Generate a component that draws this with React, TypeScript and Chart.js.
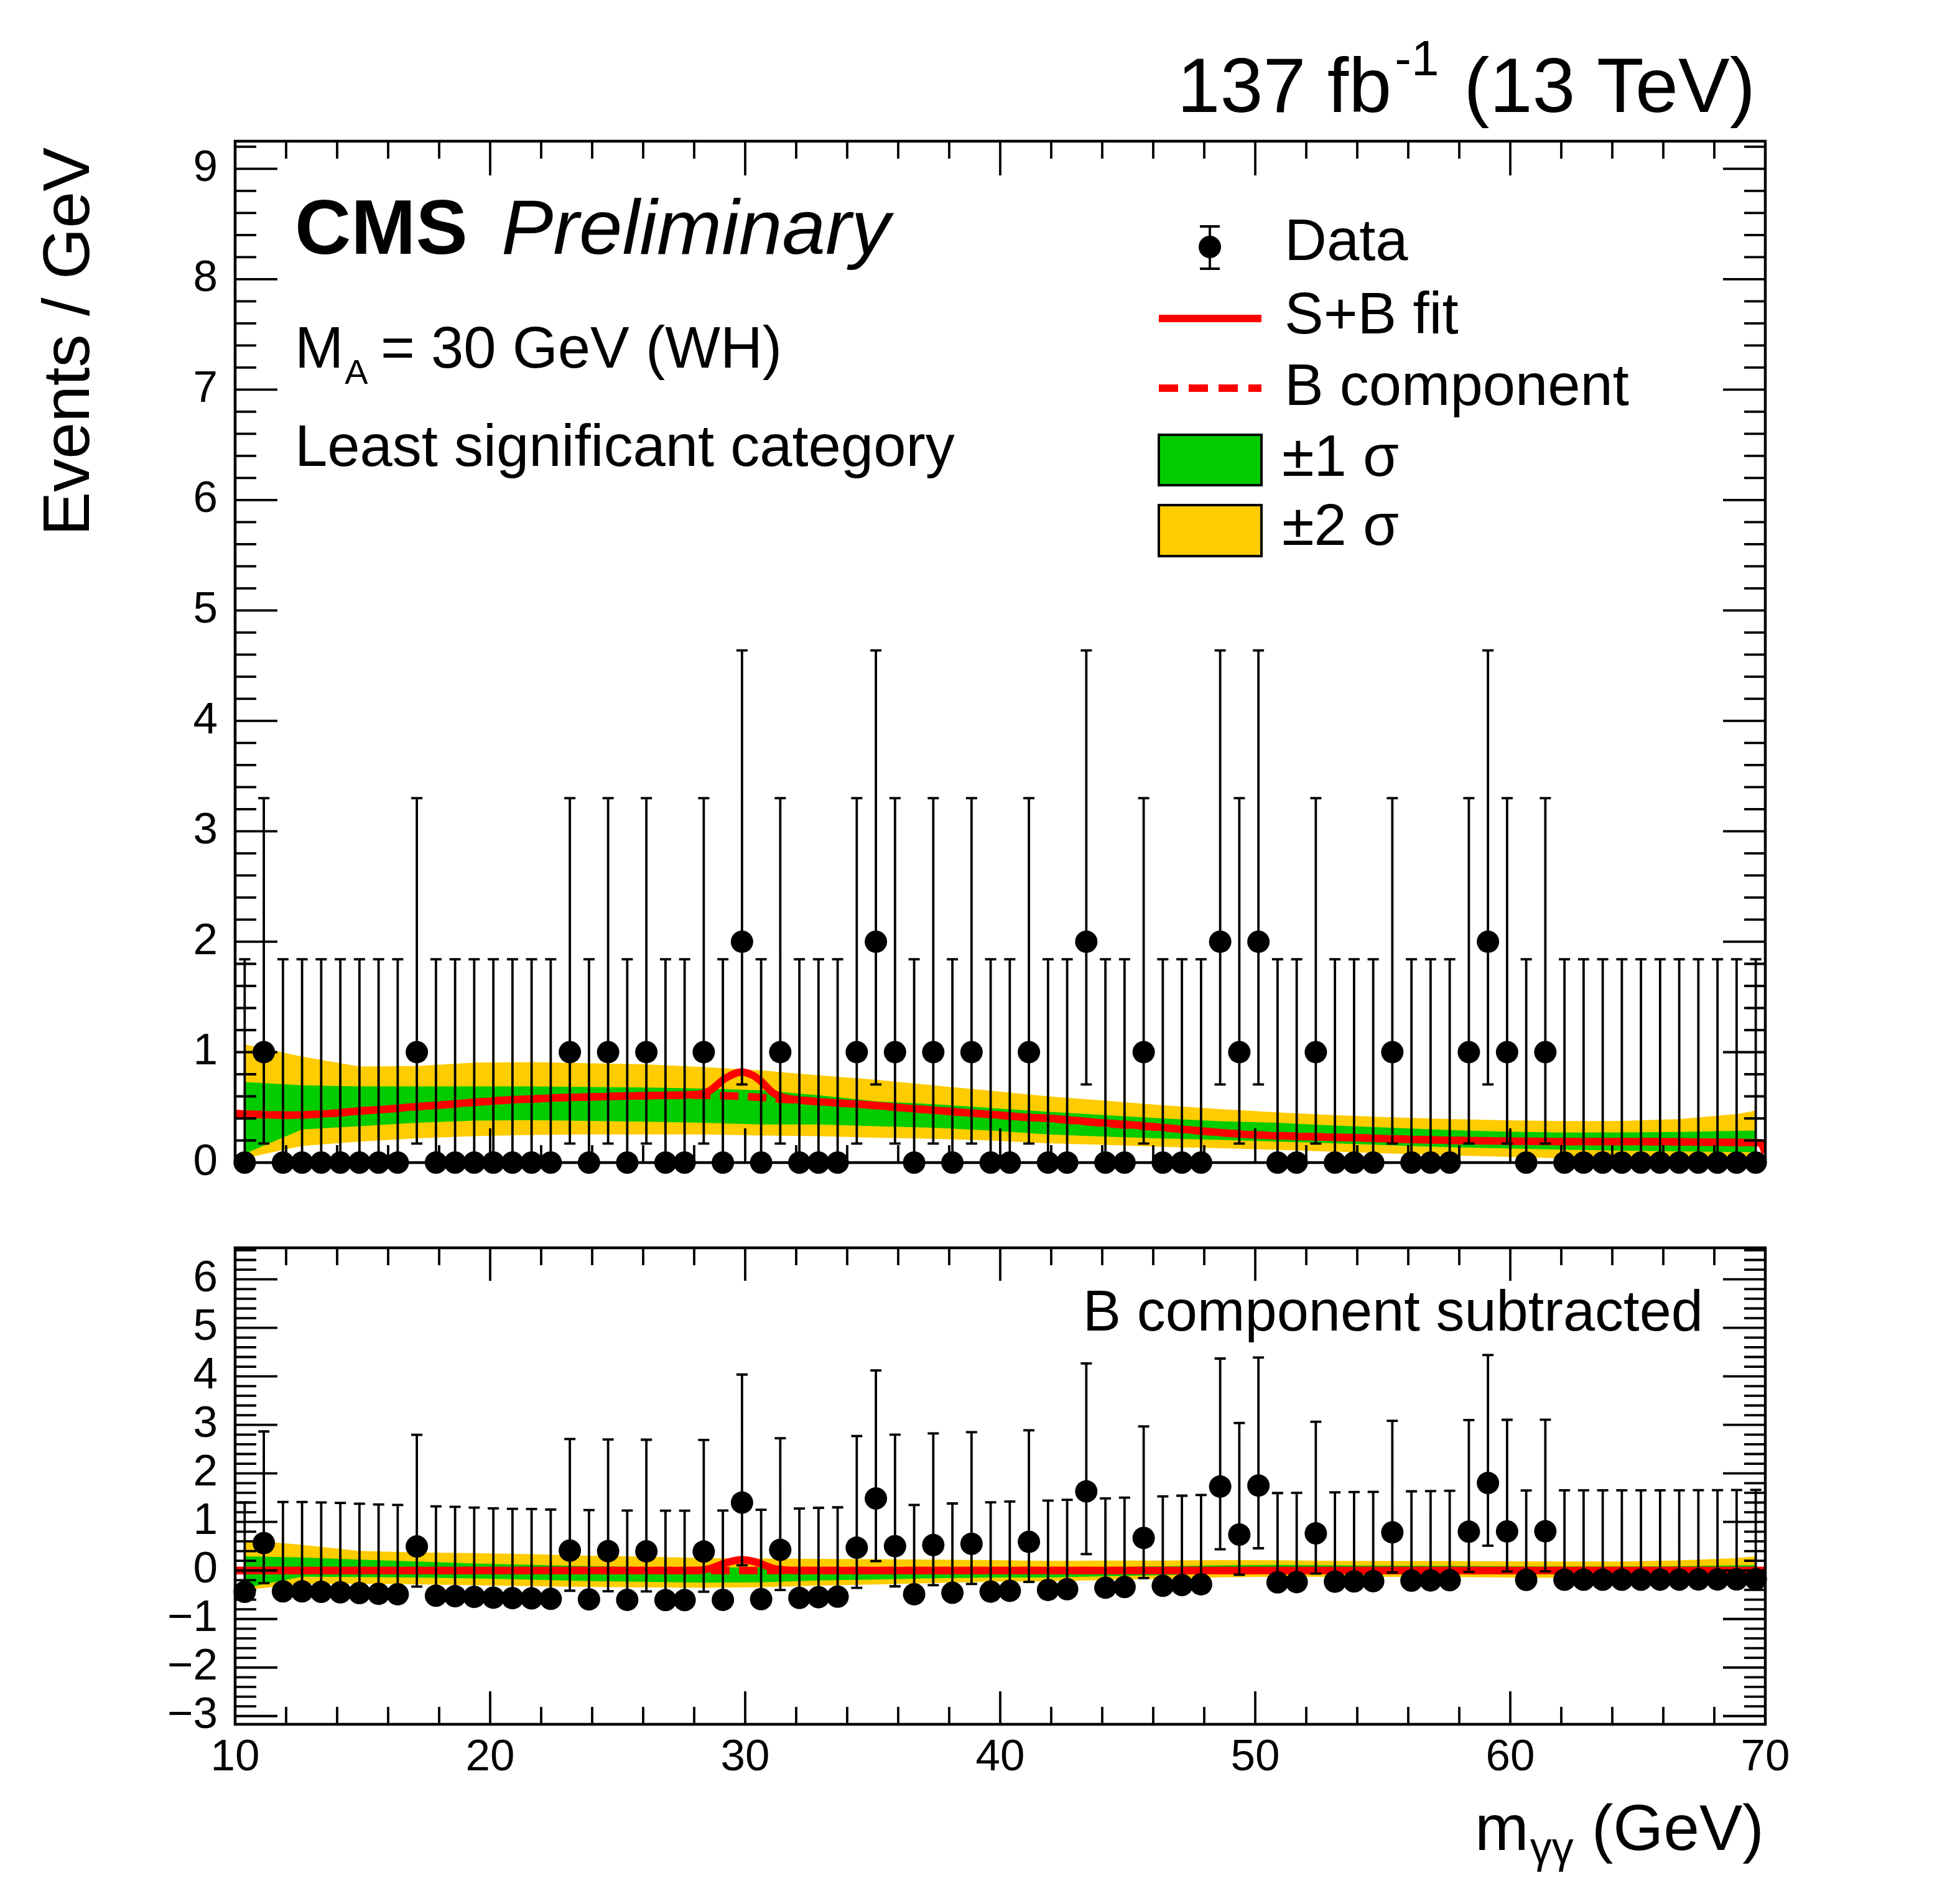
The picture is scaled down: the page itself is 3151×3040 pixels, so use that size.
import { useEffect, useRef } from "react"
import { Chart, registerables } from "chart.js"

Chart.register(...registerables)

// ---- values ----
// 80 bins of 0.75 GeV between 10 and 70 GeV
const binLow = 10
const binWidth = 0.75

// observed events per bin
const counts = [
  0, 1, 0, 0, 0, 0, 0, 0, 0, 1,
  0, 0, 0, 0, 0, 0, 0, 1, 0, 1,
  0, 1, 0, 0, 1, 0, 2, 0, 1, 0,
  0, 0, 1, 2, 1, 0, 1, 0, 1, 0,
  0, 1, 0, 0, 2, 0, 0, 1, 0, 0,
  0, 2, 1, 2, 0, 0, 1, 0, 0, 0,
  1, 0, 0, 0, 1, 2, 1, 0, 1, 0,
  0, 0, 0, 0, 0, 0, 0, 0, 0, 0,
]

// B component of the S+B fit at each bin centre
const bkgAtBins = [
  0.44, 0.435, 0.43, 0.43, 0.44, 0.45, 0.465, 0.48, 0.49, 0.505,
  0.52, 0.53, 0.545, 0.56, 0.57, 0.575, 0.585, 0.59, 0.595, 0.6,
  0.605, 0.605, 0.61, 0.61, 0.61, 0.605, 0.6, 0.59, 0.575, 0.565,
  0.55, 0.54, 0.53, 0.515, 0.5, 0.49, 0.475, 0.46, 0.45, 0.435,
  0.42, 0.41, 0.4, 0.385, 0.37, 0.355, 0.34, 0.33, 0.315, 0.3,
  0.285, 0.27, 0.26, 0.25, 0.245, 0.24, 0.235, 0.23, 0.225, 0.22,
  0.215, 0.21, 0.205, 0.2, 0.2, 0.197, 0.195, 0.193, 0.192, 0.19,
  0.19, 0.19, 0.19, 0.19, 0.188, 0.188, 0.186, 0.185, 0.183, 0.18,
]

// Garwood intervals for n = 0, 1, 2
const poissonLow = [0, 0.173, 0.708]
const poissonHigh = [1.841, 3.3, 4.638]

// S+B fit curve
const sbFitX = [
  10, 11, 12, 13, 14, 15, 16, 17, 18, 19, 20, 21, 22, 23, 24, 25, 26, 27, 28,
  28.6, 29.2, 29.85, 30.3, 30.6, 31.1, 31.5, 32,
  33, 34, 35, 36, 37, 38, 39, 40, 41, 42, 43, 44, 45, 46, 47, 48, 49, 50,
  52, 54, 56, 58, 60, 62, 64, 66, 68, 69.8, 70,
]
const sbFitY = [
  0.445, 0.435, 0.43, 0.435, 0.45, 0.47, 0.485, 0.505, 0.52, 0.54, 0.555, 0.57, 0.58, 0.59, 0.595, 0.6, 0.605, 0.61, 0.615,
  0.65, 0.76, 0.82, 0.79, 0.74, 0.63, 0.59, 0.57,
  0.55, 0.535, 0.52, 0.5, 0.48, 0.465, 0.445, 0.43, 0.41, 0.4, 0.38, 0.36, 0.345, 0.325, 0.305, 0.285, 0.265, 0.25,
  0.235, 0.225, 0.21, 0.2, 0.195, 0.19, 0.19, 0.19, 0.185, 0.18, 0.09,
]

// S+B minus B in the lower panel
const subSbX = [10, 28, 28.6, 29.2, 29.85, 30.3, 30.6, 31.1, 31.5, 32, 70]
const subSbY = [0, 0, 0.035, 0.15, 0.22, 0.19, 0.14, 0.04, 0.01, 0, 0]
const subBkgX = [10, 70]
const subBkgY = [0, 0]

// uncertainty bands, sampled at these bin centres
const bandBins = [0, 3, 6, 9, 12, 15, 18, 21, 24, 27, 30, 33, 36, 39, 42, 45, 48, 51, 54, 57, 60, 63, 66, 69, 72, 75, 78, 79]
const band2High = [1.07, 0.96, 0.87, 0.875, 0.905, 0.91, 0.9, 0.89, 0.865, 0.835, 0.79, 0.75, 0.7, 0.65, 0.6, 0.56, 0.52, 0.485, 0.455, 0.43, 0.41, 0.395, 0.383, 0.376, 0.377, 0.395, 0.44, 0.47]
const band1High = [0.73, 0.7, 0.69, 0.69, 0.69, 0.69, 0.685, 0.68, 0.67, 0.655, 0.61, 0.555, 0.53, 0.495, 0.46, 0.43, 0.4, 0.375, 0.36, 0.335, 0.315, 0.295, 0.28, 0.272, 0.273, 0.278, 0.287, 0.29]
const band1Low = [0.08, 0.3, 0.33, 0.36, 0.38, 0.385, 0.378, 0.37, 0.36, 0.345, 0.345, 0.33, 0.315, 0.29, 0.255, 0.235, 0.218, 0.205, 0.19, 0.175, 0.157, 0.14, 0.128, 0.117, 0.108, 0.102, 0.096, 0.094]
const band2Low = [0.04, 0.15, 0.19, 0.22, 0.24, 0.25, 0.255, 0.255, 0.255, 0.245, 0.24, 0.225, 0.215, 0.2, 0.175, 0.16, 0.142, 0.13, 0.115, 0.098, 0.082, 0.065, 0.052, 0.038, 0.028, 0.018, 0.012, 0.01]

const xTicks = [10, 20, 30, 40, 50, 60, 70]
const topYTicks = [0, 1, 2, 3, 4, 5, 6, 7, 8, 9]
const bottomYTicks = [-3, -2, -1, 0, 1, 2, 3, 4, 5, 6]

// ---- styling ----
const FONT = "'Liberation Sans', Arial, Helvetica, sans-serif"
const RED = "#ff0000"
const GREEN = "#00cc00"
const YELLOW = "#ffcc00"

const WIDTH = 3151
const FRAME_RIGHT = 2838
const TOP_HEIGHT = 1960
const BOTTOM_TOP = 1960
const BOTTOM_HEIGHT = 1080

const binCenter = (i: number) => binLow + binWidth * (i + 0.5)
const points = (xs: number[], ys: number[]) => xs.map((x, i) => ({ x, y: ys[i] }))
const fmt = (v: number) => (v < 0 ? "\u2212" + Math.abs(v) : String(v))

interface PanelSpec {
  height: number
  frameTop: number
  frameBottom: number
  yMin: number
  yMax: number
  yTicks: number[]
  labelSize: number
  labelPad: number
  showX: boolean
  xTickLen: [number, number]
  yTickLen: [number, number]
  decorate: (ctx: CanvasRenderingContext2D) => void
}

// ROOT style frame: ticks inside on all four sides
const framePlugin = (spec: PanelSpec) => ({
  id: "rootFrame",
  afterDatasetsDraw(chart: any) {
    const { ctx, chartArea: a } = chart
    const xs = chart.scales.x
    const ys = chart.scales.y
    ctx.save()
    ctx.strokeStyle = "#000"
    ctx.lineWidth = 3.8
    ctx.beginPath()
    for (let k = 0; k <= 30; k++) {
      const v = 10 + 2 * k
      const px = xs.getPixelForValue(v)
      const len = v % 10 === 0 ? spec.xTickLen[0] : spec.xTickLen[1]
      ctx.moveTo(px, a.bottom)
      ctx.lineTo(px, a.bottom - len)
      ctx.moveTo(px, a.top)
      ctx.lineTo(px, a.top + len)
    }
    const first = Math.ceil(spec.yMin * 5 - 1e-6)
    const last = Math.floor(spec.yMax * 5 + 1e-6)
    for (let k = first; k <= last; k++) {
      const py = ys.getPixelForValue(k / 5)
      const len = k % 5 === 0 ? spec.yTickLen[0] : spec.yTickLen[1]
      ctx.moveTo(a.left, py)
      ctx.lineTo(a.left + len, py)
      ctx.moveTo(a.right, py)
      ctx.lineTo(a.right - len, py)
    }
    ctx.stroke()
    ctx.lineWidth = 4.5
    ctx.strokeRect(a.left, a.top, a.right - a.left, a.bottom - a.top)
    ctx.restore()
  },
  afterDraw(chart: any) {
    const ctx = chart.ctx
    ctx.save()
    ctx.fillStyle = "#000"
    ctx.textBaseline = "alphabetic"
    ctx.textAlign = "left"
    spec.decorate(ctx)
    ctx.restore()
  },
})

// vertical error bars with end caps, drawn under the markers
const errorBarPlugin = {
  id: "errorBars",
  beforeDatasetDraw(chart: any, args: any) {
    const ds = chart.data.datasets[args.index]
    if (!ds.errorBars) return
    const { ctx } = chart
    const xs = chart.scales.x
    const ys = chart.scales.y
    ctx.save()
    ctx.strokeStyle = "#000"
    ctx.lineWidth = 3.8
    ctx.beginPath()
    ds.data.forEach((p: any) => {
      const px = xs.getPixelForValue(p.x)
      const lo = ys.getPixelForValue(p.yMin)
      const hi = ys.getPixelForValue(p.yMax)
      ctx.moveTo(px, lo)
      ctx.lineTo(px, hi)
      ctx.moveTo(px - 9, lo)
      ctx.lineTo(px + 9, lo)
      ctx.moveTo(px - 9, hi)
      ctx.lineTo(px + 9, hi)
    })
    ctx.stroke()
    ctx.restore()
  },
}

function buildDatasets(subtract: boolean) {
  const bandX = bandBins.map(binCenter)
  const shift = (ys: number[]) => ys.map((v, k) => v - (subtract ? bkgAtBins[bandBins[k]] : 0))
  const data = counts.map((n, i) => {
    const b = subtract ? bkgAtBins[i] : 0
    return { x: binCenter(i), y: n - b, yMin: poissonLow[n] - b, yMax: poissonHigh[n] - b }
  })
  const bkgLine = subtract ? points(subBkgX, subBkgY) : points(counts.map((_, i) => binCenter(i)), bkgAtBins)
  const sbLine = subtract ? points(subSbX, subSbY) : points(sbFitX, sbFitY)
  const band = { borderWidth: 0, borderColor: "transparent", pointRadius: 0 }
  return [
    { label: "+2 sigma", data: points(bandX, shift(band2High)), fill: "+1", backgroundColor: YELLOW, order: 6, ...band },
    { label: "-2 sigma", data: points(bandX, shift(band2Low)), fill: false, order: 6, ...band },
    { label: "+1 sigma", data: points(bandX, shift(band1High)), fill: "+1", backgroundColor: GREEN, order: 5, ...band },
    { label: "-1 sigma", data: points(bandX, shift(band1Low)), fill: false, order: 5, ...band },
    {
      label: "B component",
      data: bkgLine,
      borderColor: RED,
      borderWidth: 12,
      borderDash: [30, 15],
      pointRadius: 0,
      fill: false,
      order: 3,
    },
    {
      label: "S+B fit",
      data: sbLine,
      borderColor: RED,
      borderWidth: 12,
      pointRadius: 0,
      fill: false,
      cubicInterpolationMode: "monotone",
      order: 2,
    },
    {
      label: "Data",
      data,
      showLine: false,
      pointRadius: 18,
      pointBorderWidth: 0,
      pointBackgroundColor: "#000",
      pointBorderColor: "#000",
      clip: false,
      errorBars: true,
      order: 1,
    },
  ]
}

function makeChart(canvas: HTMLCanvasElement, spec: PanelSpec, subtract: boolean) {
  return new Chart(canvas, {
    type: "line",
    data: { datasets: buildDatasets(subtract) as any },
    options: {
      animation: false,
      responsive: false,
      devicePixelRatio: 1,
      events: [],
      layout: { padding: { left: 0, right: WIDTH - FRAME_RIGHT, top: spec.frameTop, bottom: 0 } },
      plugins: { legend: { display: false }, tooltip: { enabled: false } },
      scales: {
        x: {
          type: "linear",
          min: 10,
          max: 70,
          grid: { display: false, drawTicks: false },
          border: { display: false },
          ticks: {
            display: spec.showX,
            font: { family: FONT, size: spec.labelSize },
            color: "#000",
            padding: 12,
            maxRotation: 0,
            autoSkip: false,
          },
          afterBuildTicks: (s: any) => {
            s.ticks = xTicks.map((value) => ({ value }))
          },
          afterFit: (s: any) => {
            s.height = spec.height - spec.frameBottom
            s.paddingLeft = 0
            s.paddingRight = 0
          },
        },
        y: {
          type: "linear",
          min: spec.yMin,
          max: spec.yMax,
          grid: { display: false, drawTicks: false },
          border: { display: false },
          ticks: {
            font: { family: FONT, size: spec.labelSize },
            color: "#000",
            padding: spec.labelPad,
            autoSkip: false,
            callback: (v: any) => fmt(Number(v)),
          },
          afterBuildTicks: (s: any) => {
            s.ticks = spec.yTicks.map((value) => ({ value }))
          },
          afterFit: (s: any) => {
            // keep the frame exactly where the figure has it
            s.width = 378
            s.paddingTop = 0
            s.paddingBottom = 0
          },
        },
      },
    } as any,
    plugins: [framePlugin(spec), errorBarPlugin] as any,
  })
}

const drawTopText = (ctx: CanvasRenderingContext2D) => {
  ctx.font = `bold 125px ${FONT}`
  ctx.fillText("CMS", 474, 408)
  ctx.font = `italic 125px ${FONT}`
  ctx.fillText("Preliminary", 806, 408)

  ctx.font = `94px ${FONT}`
  ctx.fillText("M", 474, 591)
  const mWidth = ctx.measureText("M").width
  ctx.font = `56px ${FONT}`
  ctx.fillText("A", 474 + mWidth + 2, 617)
  ctx.font = `94px ${FONT}`
  ctx.fillText("= 30 GeV (WH)", 612, 591)
  ctx.fillText("Least significant category", 474, 749)

  // luminosity label, right aligned
  ctx.font = `124px ${FONT}`
  const wTail = ctx.measureText("(13 TeV)").width
  const w137 = ctx.measureText("137 fb").width
  ctx.font = `80px ${FONT}`
  const wSup = ctx.measureText("-1").width
  const xTail = 2822 - wTail
  const xSup = xTail - 40 - wSup
  const x137 = xSup - 5 - w137
  ctx.fillText("-1", xSup, 121)
  ctx.font = `124px ${FONT}`
  ctx.fillText("137 fb", x137, 180)
  ctx.fillText("(13 TeV)", xTail, 180)

  // y axis title
  ctx.save()
  ctx.translate(143, 237)
  ctx.rotate(-Math.PI / 2)
  ctx.textAlign = "right"
  ctx.font = `106px ${FONT}`
  ctx.fillText("Events / GeV", 0, 0)
  ctx.restore()

  // legend
  const lx0 = 1863
  const lx1 = 2028
  const tx = 2065
  ctx.strokeStyle = "#000"
  ctx.lineWidth = 3.8
  ctx.beginPath()
  ctx.moveTo(1945, 364)
  ctx.lineTo(1945, 432)
  ctx.moveTo(1929, 364)
  ctx.lineTo(1961, 364)
  ctx.moveTo(1929, 432)
  ctx.lineTo(1961, 432)
  ctx.stroke()
  ctx.beginPath()
  ctx.arc(1945, 397, 18, 0, Math.PI * 2)
  ctx.fill()

  ctx.strokeStyle = RED
  ctx.lineWidth = 12
  ctx.beginPath()
  ctx.moveTo(lx0, 512)
  ctx.lineTo(lx1, 512)
  ctx.stroke()
  ctx.setLineDash([31, 17])
  ctx.beginPath()
  ctx.moveTo(lx0, 624)
  ctx.lineTo(lx1, 624)
  ctx.stroke()
  ctx.setLineDash([])

  ctx.lineWidth = 4
  ctx.strokeStyle = "#000"
  ctx.fillStyle = GREEN
  ctx.fillRect(lx0, 699, lx1 - lx0, 81)
  ctx.strokeRect(lx0, 699, lx1 - lx0, 81)
  ctx.fillStyle = YELLOW
  ctx.fillRect(lx0, 812, lx1 - lx0, 82)
  ctx.strokeRect(lx0, 812, lx1 - lx0, 82)

  ctx.fillStyle = "#000"
  ctx.font = `94px ${FONT}`
  ctx.fillText("Data", tx, 418)
  ctx.fillText("S+B fit", tx, 536)
  ctx.fillText("B component", tx, 651)
  ctx.fillText("\u00b11 \u03c3", tx - 4, 765)
  ctx.fillText("\u00b12 \u03c3", tx - 4, 876)
}

const drawBottomText = (ctx: CanvasRenderingContext2D) => {
  ctx.textAlign = "right"
  ctx.font = `92px ${FONT}`
  ctx.fillText("B component subtracted", 2738, 179)

  // x axis title: m_{γγ} (GeV), right aligned to the frame
  ctx.textAlign = "left"
  ctx.font = `104px ${FONT}`
  const wm = ctx.measureText("m").width
  const wUnit = ctx.measureText(" (GeV)").width
  ctx.font = `70px ${FONT}`
  const wSub = ctx.measureText("\u03b3\u03b3").width
  const x0 = 2834 - wm - wSub - wUnit
  ctx.font = `104px ${FONT}`
  ctx.fillText("m", x0, 1014)
  ctx.font = `70px ${FONT}`
  ctx.fillText("\u03b3\u03b3", x0 + wm + 2, 1034)
  ctx.font = `104px ${FONT}`
  ctx.fillText(" (GeV)", x0 + wm + wSub + 2, 1014)
}

const topSpec: PanelSpec = {
  height: TOP_HEIGHT,
  frameTop: 227,
  frameBottom: 1869,
  yMin: 0,
  yMax: 9.25,
  yTicks: topYTicks,
  labelSize: 71,
  labelPad: 28,
  showX: false,
  xTickLen: [55, 28],
  yTickLen: [68, 34],
  decorate: drawTopText,
}

const bottomSpec: PanelSpec = {
  height: BOTTOM_HEIGHT,
  frameTop: 2006 - BOTTOM_TOP,
  frameBottom: 2772 - BOTTOM_TOP,
  yMin: -3.17,
  yMax: 6.65,
  yTicks: bottomYTicks,
  labelSize: 71,
  labelPad: 28,
  showX: true,
  xTickLen: [53, 28],
  yTickLen: [68, 34],
  decorate: drawBottomText,
}

export default function App() {
  const topRef = useRef<HTMLCanvasElement>(null)
  const bottomRef = useRef<HTMLCanvasElement>(null)

  useEffect(() => {
    document.body.style.margin = "0"
    if (!topRef.current || !bottomRef.current) return
    const top = makeChart(topRef.current, topSpec, false)
    const bottom = makeChart(bottomRef.current, bottomSpec, true)
    return () => {
      top.destroy()
      bottom.destroy()
    }
  }, [])

  return (
    <div style={{ position: "relative", width: WIDTH, height: 3040, background: "#fff" }}>
      <canvas
        ref={topRef}
        width={WIDTH}
        height={TOP_HEIGHT}
        style={{ position: "absolute", left: 0, top: 0, width: WIDTH, height: TOP_HEIGHT }}
      />
      <canvas
        ref={bottomRef}
        width={WIDTH}
        height={BOTTOM_HEIGHT}
        style={{ position: "absolute", left: 0, top: BOTTOM_TOP, width: WIDTH, height: BOTTOM_HEIGHT }}
      />
    </div>
  )
}
